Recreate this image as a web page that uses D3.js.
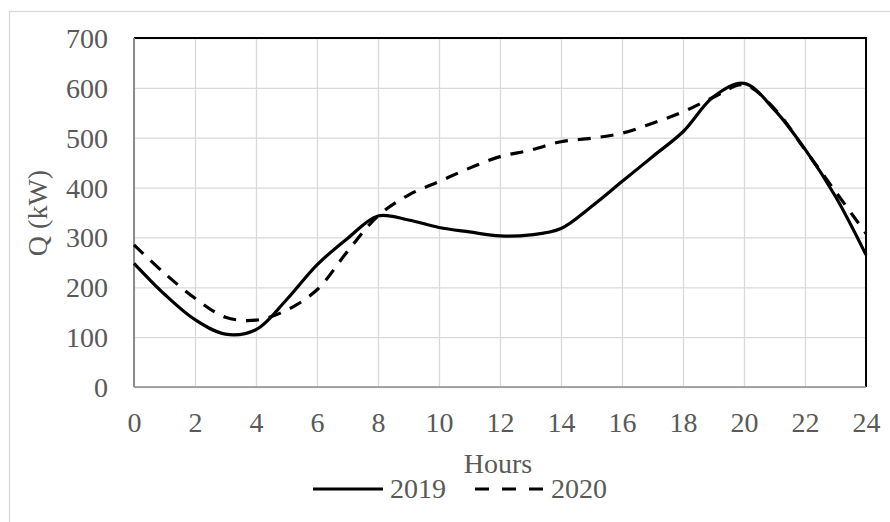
<!DOCTYPE html>
<html>
<head>
<meta charset="utf-8">
<script src="https://cdn.jsdelivr.net/npm/d3@7/dist/d3.min.js"></script>
<style>
  html, body { margin: 0; padding: 0; background: #fff; }
  svg { display: block; }
  text { font-family: "Liberation Serif", "Times New Roman", serif; }
</style>
</head>
<body>
<svg id="chart" width="890" height="522"></svg>
<script>
// ---- data ----
const hours = [0,1,2,3,4,5,6,7,8,9,10,11,12,13,14,15,16,17,18,19,20,21,22,23,24];
const q2019 = [248,186,135,106,115,175,245,298,343,335,320,311,303,305,318,362,412,462,512,582,609,556,477,382,265];
const q2020 = [285,228,178,140,134,154,195,272,343,385,412,439,462,475,492,499,509,529,552,581,606,558,476,392,308];
const xTicks = [0,2,4,6,8,10,12,14,16,18,20,22,24];
const yTicks = [0,100,200,300,400,500,600,700];
const seriesNames = ["2019", "2020"];
const xTitle = "Hours";
const yTitle = "Q (kW)";

// ---- layout ----
const L = 134, R = 866, T = 38, B = 387;
const textColor = "#595959";
const fontSize = 28;
const serif = '"Liberation Serif", "Times New Roman", serif';

const svg = d3.select("#chart");

// outer chart border (right/bottom edges fall outside the canvas)
svg.append("rect")
  .attr("x", 9.5).attr("y", 11.5)
  .attr("width", 900).attr("height", 530)
  .attr("fill", "#fff").attr("stroke", "#d9d9d9").attr("stroke-width", 1.3);

const x = d3.scaleLinear().domain([0, 24]).range([L, R]);
const y = d3.scaleLinear().domain([0, 700]).range([B, T]);

// gridlines
const gx = svg.append("g").attr("transform", `translate(0,${B})`)
  .call(d3.axisBottom(x).tickValues(xTicks).tickSize(-(B - T)).tickFormat(""));
gx.select(".domain").remove();
gx.selectAll("line").attr("stroke", "#d9d9d9").attr("stroke-width", 1.3);

const gy = svg.append("g").attr("transform", `translate(${L},0)`)
  .call(d3.axisLeft(y).tickValues(yTicks).tickSize(-(R - L)).tickFormat(""));
gy.select(".domain").remove();
gy.selectAll("line").attr("stroke", "#d9d9d9").attr("stroke-width", 1.3);

// plot border: top and right black
svg.append("line").attr("x1", L).attr("x2", R + 1).attr("y1", T).attr("y2", T)
  .attr("stroke", "#000").attr("stroke-width", 2);
svg.append("line").attr("x1", R).attr("x2", R).attr("y1", T).attr("y2", B)
  .attr("stroke", "#000").attr("stroke-width", 2);

// axis lines (gray)
svg.append("line").attr("x1", L).attr("x2", R).attr("y1", B).attr("y2", B)
  .attr("stroke", "#8c8c8c").attr("stroke-width", 1.5);
svg.append("line").attr("x1", L).attr("x2", L).attr("y1", T).attr("y2", B)
  .attr("stroke", "#8c8c8c").attr("stroke-width", 2);

// tick labels
const ax = svg.append("g").attr("transform", `translate(0,${B})`)
  .call(d3.axisBottom(x).tickValues(xTicks).tickSize(0).tickPadding(0));
ax.select(".domain").remove();
ax.selectAll("text")
  .attr("y", 45).attr("dy", null)
  .attr("fill", textColor).style("font-size", fontSize + "px")
  .style("font-family", serif);

const ay = svg.append("g").attr("transform", `translate(${L},0)`)
  .call(d3.axisLeft(y).tickValues(yTicks).tickSize(0).tickPadding(0));
ay.select(".domain").remove();
ay.selectAll("text")
  .attr("x", -26).attr("dy", "0.34em")
  .attr("fill", textColor).style("font-size", fontSize + "px")
  .style("font-family", serif);

// lines
const line = d3.line()
  .x((d, i) => x(hours[i]))
  .y(d => y(d))
  .curve(d3.curveCatmullRom.alpha(0.5));

svg.append("path").datum(q2020)
  .attr("d", line).attr("fill", "none")
  .attr("stroke", "#000").attr("stroke-width", 3.2)
  .attr("stroke-dasharray", "13,10");

svg.append("path").datum(q2019)
  .attr("d", line).attr("fill", "none")
  .attr("stroke", "#000").attr("stroke-width", 3.2)
  .attr("stroke-linejoin", "round");

// axis titles
svg.append("text").attr("x", 498).attr("y", 473)
  .attr("text-anchor", "middle").attr("fill", textColor)
  .style("font-size", fontSize + "px").text(xTitle);

svg.append("text")
  .attr("transform", "translate(47,213) rotate(-90)")
  .attr("text-anchor", "middle").attr("fill", textColor)
  .style("font-size", fontSize + "px").text(yTitle);

// legend
const legY = 489;
const leg = [
  { name: seriesNames[0], x1: 313, x2: 383, tx: 390, dash: null },
  { name: seriesNames[1], x1: 475, x2: 545, tx: 551, dash: "14,13" }
];
leg.forEach(d => {
  const l = svg.append("line").attr("x1", d.x1).attr("x2", d.x2)
    .attr("y1", legY).attr("y2", legY)
    .attr("stroke", "#000").attr("stroke-width", 3.2);
  if (d.dash) l.attr("stroke-dasharray", d.dash);
  svg.append("text").attr("x", d.tx).attr("y", 498)
    .attr("fill", textColor).style("font-size", fontSize + "px").text(d.name);
});
</script>
</body>
</html>
